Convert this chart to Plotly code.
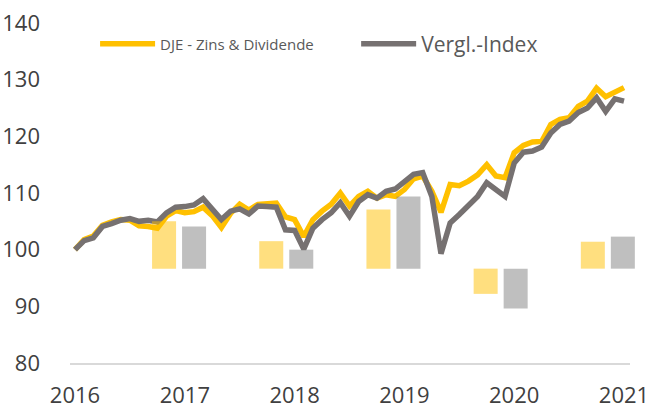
import plotly.graph_objects as go

# ---- data ----
year_labels = ["2016", "2017", "2018", "2019", "2020", "2021"]
months = list(range(61))  # monthly index, Jan 2016 .. Jan 2021
dje = [100.0, 101.8, 102.4, 104.3, 104.9, 105.3, 105.2, 104.2, 104.1, 103.8,
       105.9, 106.9, 106.5, 106.7, 107.5, 106.0, 103.9, 106.4, 108.0, 107.0,
       108.0, 108.0, 108.2, 105.8, 105.3, 102.3, 105.3, 106.8, 108.0, 110.0,
       107.7, 109.4, 110.3, 109.1, 109.7, 109.4, 110.6, 112.5, 113.0, 110.3,
       106.6, 111.5, 111.3, 112.1, 113.2, 115.0, 113.0, 112.7, 117.1, 118.4,
       119.0, 119.1, 122.1, 123.0, 123.3, 125.3, 126.2, 128.5, 127.0, 127.8,
       128.6]
index = [100.0, 101.6, 102.1, 104.1, 104.6, 105.2, 105.5, 105.0, 105.2, 104.9,
         106.5, 107.5, 107.6, 107.9, 109.0, 107.1, 105.3, 106.8, 107.2, 106.3,
         107.7, 107.6, 107.5, 103.5, 103.4, 100.1, 103.8, 105.3, 106.5, 108.3,
         105.9, 108.5, 109.7, 109.1, 110.3, 110.7, 112.1, 113.3, 113.6, 109.4,
         99.3, 104.7, 106.2, 107.8, 109.4, 111.8, 110.6, 109.4, 115.3, 117.2,
         117.4, 118.1, 120.6, 122.1, 122.7, 124.2, 125.0, 126.8, 124.4, 126.6,
         126.2]
bar_years = ["2017", "2018", "2019", "2020", "2021"]
bar_base = 96.65
dje_bars = [8.35, 4.85, 10.45, -4.45, 4.75]
index_bars = [7.45, 3.35, 12.75, -7.05, 5.65]

YELLOW = "#FFC000"
GRAY = "#767171"
TEXT = "#404040"
FONT = "Open Sans"

fig = go.Figure()
fig.add_trace(go.Scatter(x=months, y=dje, mode="lines", name="DJE - Zins & Dividende",
                         line=dict(color=YELLOW, width=5.5), legend="legend"))
fig.add_trace(go.Scatter(x=months, y=index, mode="lines", name="Vergl.-Index",
                         line=dict(color=GRAY, width=5.5), legend="legend2"))
fig.add_trace(go.Bar(x=bar_years, y=dje_bars, base=bar_base, xaxis="x2", yaxis="y",
                     marker=dict(color="rgba(255,192,0,0.5)", line=dict(width=0)),
                     width=0.224, offset=-0.252, showlegend=False))
fig.add_trace(go.Bar(x=bar_years, y=index_bars, base=bar_base, xaxis="x2", yaxis="y",
                     marker=dict(color="rgba(128,128,128,0.5)", line=dict(width=0)),
                     width=0.224, offset=0.028, showlegend=False))

fig.update_layout(
    width=654, height=408,
    margin=dict(l=70, r=14, t=23, b=45, autoexpand=False),
    paper_bgcolor="white", plot_bgcolor="rgba(0,0,0,0)",
    barmode="overlay",
    font=dict(family=FONT, color=TEXT, size=22),
    xaxis=dict(domain=[0, 560 / 570], range=[-0.546, 60.656],
               tickvals=[0, 12, 24, 36, 48, 60], ticktext=year_labels,
               showgrid=False, zeroline=False, showline=True,
               linecolor="#D9D9D9", linewidth=2, ticks="",
               ticklabelstandoff=12,
               tickfont=dict(size=22, color=TEXT, family=FONT)),
    xaxis2=dict(domain=[0, 1], type="category", range=[-1.0175, 4.30],
                anchor="y", visible=False),
    yaxis=dict(range=[80, 140], dtick=10, showgrid=False, zeroline=False,
               showline=False, ticks="", ticklabelstandoff=29,
               tickfont=dict(size=22, color=TEXT, family=FONT)),
    legend=dict(orientation="h", x=0.044, y=0.938, xanchor="left", yanchor="middle",
                font=dict(size=15, color="#595959", family=FONT),
                bgcolor="rgba(0,0,0,0)", itemwidth=55),
    legend2=dict(orientation="h", x=0.502, y=0.938, xanchor="left", yanchor="middle",
                 font=dict(size=21, color="#595959", family=FONT),
                 bgcolor="rgba(0,0,0,0)", itemwidth=55),
)

fig.write_html("out.html")
